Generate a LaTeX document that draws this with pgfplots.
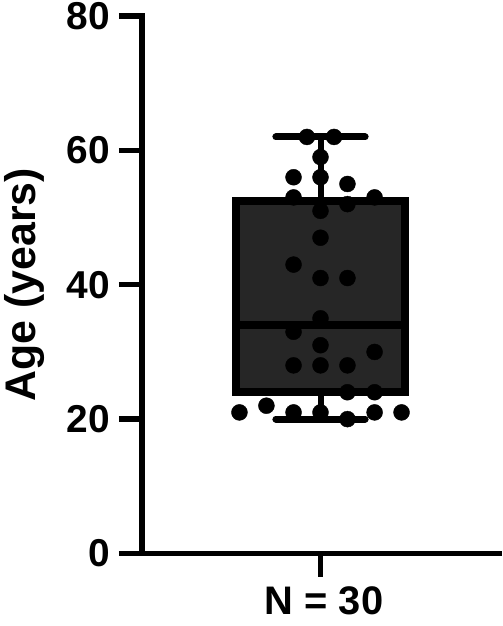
\documentclass[border=0pt]{standalone}
\usepackage{pgfplots}
\pgfplotsset{compat=1.18}
\usepackage{fontspec}
\setmainfont{Liberation Sans}
\definecolor{boxfill}{RGB}{38,38,38}
\begin{document}
\begin{tikzpicture}
\begin{axis}[
  scale only axis, width=357bp, height=537.5bp,
  xmin=0, xmax=2, ymin=0, ymax=80,
  axis lines=left,
  axis line style={-, line width=5.5bp, line cap=rect, black},
  tick align=outside, major tick length=23bp,
  tick style={line width=5.5bp, black},
  xtick={1}, xticklabels={},
  ytick={0,20,40,60,80},
  /pgf/number format/assume math mode=true,
  yticklabel style={font=\fontsize{39}{40}\selectfont\bfseries, inner sep=0pt, anchor=east, xshift=-9bp},
  xlabel={N = 30},
  xlabel style={font=\fontsize{40}{42}\selectfont\bfseries, at={(axis description cs:0.51,-0.1144)}, anchor=base, inner sep=0pt},
  ylabel={Age (years)},
  ylabel style={font=\fontsize{43}{45}\selectfont\bfseries, at={(axis description cs:-0.2997,0.5)}, anchor=base, inner sep=0pt, rotate=0},
  clip=false,
]
% whiskers
\addplot[black, line width=6bp, line cap=round] coordinates {(1,52.5) (1,62)};
\addplot[black, line width=6bp, line cap=round] coordinates {(1,24) (1,20)};
\addplot[black, line width=7bp, line cap=round] coordinates {(0.75,62) (1.25,62)};
\addplot[black, line width=7bp, line cap=round] coordinates {(0.75,20) (1.25,20)};
% box
\addplot[draw=black, fill=boxfill, line width=8bp] coordinates {(0.525,24) (1.475,24) (1.475,52.5) (0.525,52.5)} --cycle;
% median
\addplot[black, line width=8bp] coordinates {(0.525,34) (1.475,34)};
% points
\addplot[only marks, mark=*, mark size=8bp, black] coordinates {
(0.924,62) (1.076,62) (1,59) (0.849,56) (1,56) (1.151,55) (0.849,53) (1.151,52) (1.303,53) (1,51)
(1,47) (0.849,43) (1,41) (1.151,41) (1,35) (0.849,33) (1,31) (1.303,30) (0.849,28) (1,28)
(1.151,28) (1.151,24) (1.303,24) (0.546,21) (0.697,22) (0.849,21) (1,21) (1.151,20) (1.303,21) (1.454,21)
};
\end{axis}
\pgfresetboundingbox
\path ([shift={(-142bp,-72.5bp)}]current axis.south west) rectangle ([shift={(4bp,16bp)}]current axis.north east);
\end{tikzpicture}
\end{document}
